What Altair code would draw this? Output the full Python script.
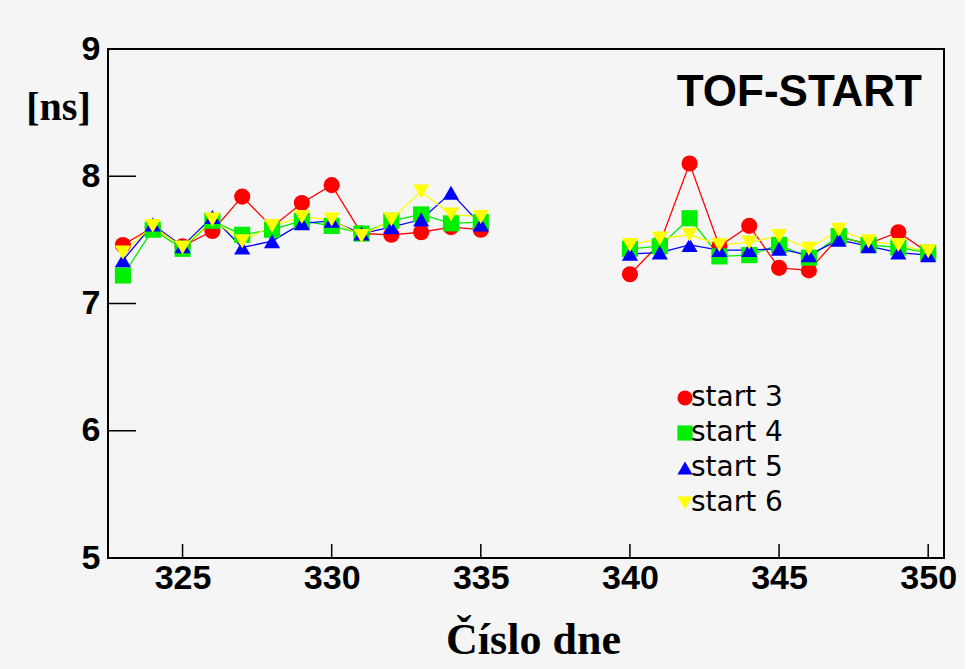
import altair as alt
import pandas as pd

days_a = [323, 324, 325, 326, 327, 328, 329, 330, 331, 332, 333, 334, 335]
days_b = [340, 341, 342, 343, 344, 345, 346, 347, 348, 349, 350]

s3_a = [7.46, 7.60, 7.45, 7.57, 7.84, 7.60, 7.79, 7.93, 7.55, 7.54, 7.56, 7.60, 7.58]
s3_b = [7.23, 7.47, 8.10, 7.45, 7.61, 7.28, 7.26, 7.52, 7.47, 7.56, 7.40]
s4_a = [7.22, 7.58, 7.43, 7.65, 7.54, 7.58, 7.65, 7.61, 7.55, 7.65, 7.70, 7.63, 7.64]
s4_b = [7.43, 7.45, 7.67, 7.37, 7.38, 7.46, 7.36, 7.53, 7.46, 7.44, 7.40]
s5_a = [7.34, 7.62, 7.45, 7.68, 7.44, 7.49, 7.63, 7.65, 7.55, 7.60, 7.66, 7.87, 7.62]
s5_b = [7.39, 7.40, 7.46, 7.42, 7.42, 7.43, 7.38, 7.50, 7.45, 7.40, 7.38]
s6_a = [7.40, 7.61, 7.44, 7.66, 7.49, 7.61, 7.68, 7.66, 7.53, 7.66, 7.88, 7.70, 7.68]
s6_b = [7.46, 7.51, 7.54, 7.46, 7.48, 7.53, 7.43, 7.58, 7.49, 7.46, 7.41]

series_names = ["start 3", "start 4", "start 5", "start 6"]
series_colors = ["#ff0000", "#00ee00", "#0000ff", "#ffff00"]
series_shapes = ["circle", "square", "triangle-up", "triangle-down"]

x_ticks = [325, 330, 335, 340, 345, 350]
y_ticks = [5, 6, 7, 8, 9]

rows = []
for i, (name, a, b) in enumerate(zip(series_names, [s3_a, s4_a, s5_a, s6_a], [s3_b, s4_b, s5_b, s6_b])):
    for d, v in zip(days_a, a):
        rows.append({"series": name, "ord": i, "seg": "a", "day": d, "val": v})
    for d, v in zip(days_b, b):
        rows.append({"series": name, "ord": i, "seg": "b", "day": d, "val": v})
df = pd.DataFrame(rows)

xscale = alt.Scale(domain=[322.5, 350.53], nice=False, zero=False)
yscale = alt.Scale(domain=[5, 9], nice=False, zero=False)
cscale = alt.Scale(domain=series_names, range=series_colors)
shscale = alt.Scale(domain=series_names, range=series_shapes)

xaxis = alt.Axis(values=x_ticks, ticks=False, domain=False, grid=False,
                 labelFont="Liberation Sans", labelFontWeight="bold", labelFontSize=34,
                 labelColor="black", labelPadding=3, labelFlush=False,
                 title="Číslo dne", titleFont="Liberation Serif", titleFontWeight="bold",
                 titleFontSize=44, titleColor="black", titleX=425, titleY=95,
                 titleAlign="center", titleBaseline="alphabetic")
yaxis = alt.Axis(values=y_ticks, ticks=False, domain=False, grid=False,
                 labelFont="Liberation Sans", labelFontWeight="bold", labelFontSize=34,
                 labelColor="black", labelPadding=8, labelFlush=False,
                 title="[ns]", titleFont="Liberation Serif", titleFontWeight="bold",
                 titleFontSize=40, titleColor="black", titleAngle=0, titleX=-50, titleY=58,
                 titleAlign="center", titleBaseline="middle")

legend = alt.Legend(title=None, orient="none", legendX=563, legendY=335,
                    padding=0, symbolSize=230, symbolStrokeWidth=0,
                    labelFont="DejaVu Sans", labelFontSize=28,
                    labelColor="black", labelOffset=alt.ExprRef(expr="-8"), rowPadding=7,
                    symbolOpacity=1, symbolFillColor="black")

base = alt.Chart(df)

line = base.mark_line(strokeWidth=1.3).encode(
    x=alt.X("day:Q", scale=xscale, axis=xaxis),
    y=alt.Y("val:Q", scale=yscale, axis=yaxis),
    color=alt.Color("series:N", scale=cscale, legend=legend),
    detail="seg:N",
    order="day:Q",
)
pts = base.mark_point(filled=True, opacity=1, size=260).encode(
    x=alt.X("day:Q", scale=xscale, axis=xaxis),
    y=alt.Y("val:Q", scale=yscale, axis=yaxis),
    color=alt.Color("series:N", scale=cscale, legend=legend),
    shape=alt.Shape("series:N", scale=shscale, legend=legend),
    order="ord:Q",
)

ytick_df = pd.DataFrame({"v": [6, 7, 8]})
xtick_df = pd.DataFrame({"d": x_ticks})
yticks = alt.Chart(ytick_df).mark_rule(color="black", strokeWidth=1.5).encode(
    y=alt.Y("v:Q", scale=yscale, axis=yaxis), x=alt.value(0), x2=alt.value(28))
xticks = alt.Chart(xtick_df).mark_rule(color="black", strokeWidth=1.5).encode(
    x=alt.X("d:Q", scale=xscale, axis=xaxis), y=alt.value(509), y2=alt.value(495))

title_df = pd.DataFrame({"t": ["TOF-START"]})
title = alt.Chart(title_df).mark_text(
    font="Liberation Sans", fontWeight="bold", fontSize=44, color="black",
    align="right", baseline="alphabetic").encode(
    text="t:N", x=alt.value(814), y=alt.value(57))

chart = alt.layer(line, pts, yticks, xticks, title).properties(
    width=836, height=509,
    autosize=alt.AutoSizeParams(type="none"),
    padding={"left": 108, "top": 49, "right": 21, "bottom": 111},
    background="#f5f5f5",
).configure_view(stroke="black", strokeWidth=2)

chart.save("out.html", embed_options={"renderer": "svg", "actions": False})
